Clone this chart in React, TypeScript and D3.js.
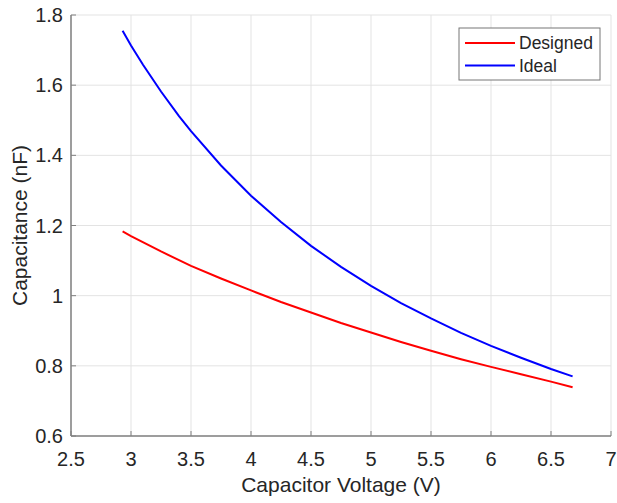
import React from "react";
import * as d3 from "d3";

const xTicks = [2.5, 3, 3.5, 4, 4.5, 5, 5.5, 6, 6.5, 7];
const yTicks = [0.6, 0.8, 1, 1.2, 1.4, 1.6, 1.8];

const idealV = [2.93, 3.0, 3.1, 3.25, 3.4, 3.5, 3.75, 4.0, 4.25, 4.5, 4.75, 5.0, 5.25, 5.5, 5.75, 6.0, 6.25, 6.5, 6.68];
const idealC = [1.755, 1.713, 1.658, 1.582, 1.512, 1.469, 1.371, 1.285, 1.21, 1.142, 1.082, 1.028, 0.979, 0.935, 0.894, 0.857, 0.823, 0.791, 0.77];

const designedV = [2.93, 3.0, 3.25, 3.5, 3.75, 4.0, 4.25, 4.5, 4.75, 5.0, 5.25, 5.5, 5.75, 6.0, 6.25, 6.5, 6.68];
const designedC = [1.183, 1.17, 1.126, 1.085, 1.049, 1.015, 0.982, 0.952, 0.922, 0.895, 0.868, 0.843, 0.819, 0.797, 0.776, 0.755, 0.739];

const seriesNames = ["Designed", "Ideal"];
const seriesColors = ["#ff0000", "#0000ff"];

export default function App() {
  const W = 617, H = 503;
  const left = 71, right = 611, top = 15, bottom = 436;
  const x = d3.scaleLinear().domain([2.5, 7]).range([left, right]);
  const y = d3.scaleLinear().domain([0.6, 1.8]).range([bottom, top]);
  const line = d3.line<[number, number]>().x(d => x(d[0])).y(d => y(d[1]));
  const ideal = idealV.map((v, i) => [v, idealC[i]] as [number, number]);
  const designed = designedV.map((v, i) => [v, designedC[i]] as [number, number]);
  const font = "Liberation Sans, Arial, Helvetica, sans-serif";
  const txt = "#262626";
  const grid = "#e3e3e3";
  const axis = "#808080";
  return (
    <svg width={W} height={H} style={{ position: "absolute", left: 0, top: 0, background: "#fff" }} fontFamily={font}>
      <rect x={0} y={0} width={W} height={H} fill="#fff" />
      {xTicks.map(t => (
        <line key={"gx" + t} x1={x(t)} x2={x(t)} y1={top} y2={bottom} stroke={grid} strokeWidth={1} />
      ))}
      {yTicks.map(t => (
        <line key={"gy" + t} x1={left} x2={right} y1={y(t)} y2={y(t)} stroke={grid} strokeWidth={1} />
      ))}
      <path d={line(designed) || ""} fill="none" stroke={seriesColors[0]} strokeWidth={2} />
      <path d={line(ideal) || ""} fill="none" stroke={seriesColors[1]} strokeWidth={2} />
      <line x1={left} x2={right} y1={bottom} y2={bottom} stroke={axis} strokeWidth={1.5} />
      <line x1={left} x2={left} y1={top} y2={bottom} stroke={axis} strokeWidth={1.5} />
      {xTicks.map(t => (
        <g key={"tx" + t}>
          <line x1={x(t)} x2={x(t)} y1={bottom} y2={bottom - 5} stroke={axis} strokeWidth={1} />
          <text x={x(t)} y={466} textAnchor="middle" fontSize={20} fill={txt}>{t}</text>
        </g>
      ))}
      {yTicks.map(t => (
        <g key={"ty" + t}>
          <line x1={left} x2={left + 5} y1={y(t)} y2={y(t)} stroke={axis} strokeWidth={1} />
          <text x={63} y={y(t)} dy="0.35em" textAnchor="end" fontSize={20} fill={txt}>{t}</text>
        </g>
      ))}
      <text x={(left + right) / 2} y={492} textAnchor="middle" fontSize={21} fill={txt}>Capacitor Voltage (V)</text>
      <text transform={`translate(27,${(top + bottom) / 2}) rotate(-90)`} textAnchor="middle" fontSize={21} fill={txt}>Capacitance (nF)</text>
      <rect x={459} y={28} width={141} height={52} fill="#fff" stroke="#777" strokeWidth={1} />
      {seriesNames.map((n, i) => (
        <g key={n}>
          <line x1={465} x2={515} y1={43 + i * 22.5} y2={43 + i * 22.5} stroke={seriesColors[i]} strokeWidth={2} />
          <text x={519} y={43 + i * 22.5} dy="0.35em" fontSize={17.5} fill={txt}>{n}</text>
        </g>
      ))}
    </svg>
  );
}
